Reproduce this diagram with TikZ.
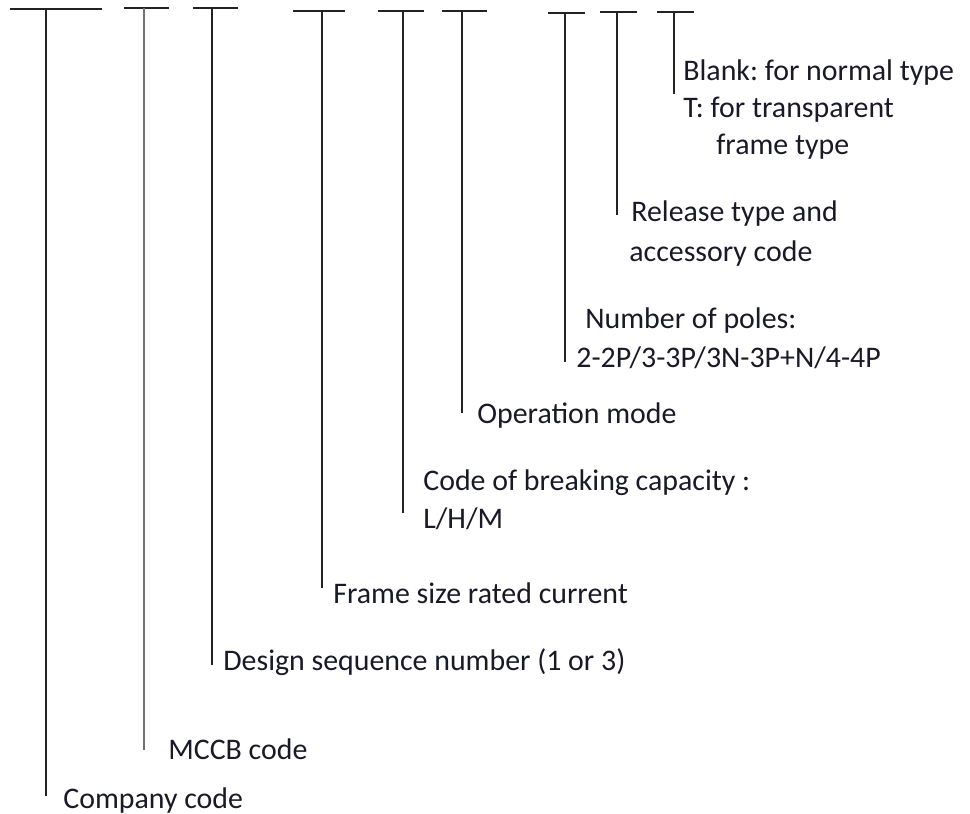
\documentclass[tikz,border=0pt]{standalone}
\usepackage{fontspec}
\setmainfont{Carlito}
\usepackage{tikz}
\frenchspacing

\definecolor{inkline}{RGB}{35,35,35}
\definecolor{inktext}{RGB}{25,25,40}
\tikzset{
  bar/.style={draw=inkline,line width=1.1pt},
  stem/.style={draw=inkline,line width=1.1pt},
  lbl/.style={anchor=base west,inner sep=0pt,text=inktext,
    font=\fontsize{17}{20}\selectfont}
}

\begin{document}
\begin{tikzpicture}[x=0.02cm,y=-0.02cm]
      \useasboundingbox (0,0) rectangle (970,814);

      % bars on top
      \coordinate (l1) at (10,9);  \coordinate (r1) at (102,9);  \coordinate (t1) at (46,9);
      \coordinate (l2) at (124,8); \coordinate (r2) at (169,8);  \coordinate (t2) at (144,8);
      \coordinate (l3) at (193,8); \coordinate (r3) at (238,8);  \coordinate (t3) at (212,8);
      \coordinate (l4) at (293,11); \coordinate (r4) at (345,11); \coordinate (t4) at (322,11);
      \coordinate (l5) at (378,11); \coordinate (r5) at (424,11); \coordinate (t5) at (403,11);
      \coordinate (l6) at (442,11); \coordinate (r6) at (487,11); \coordinate (t6) at (462,11);
      \coordinate (l7) at (548,13); \coordinate (r7) at (585,13); \coordinate (t7) at (565,13);
      \coordinate (l8) at (600,12); \coordinate (r8) at (637,12); \coordinate (t8) at (617,12);
      \coordinate (l9) at (657,12); \coordinate (r9) at (694,12); \coordinate (t9) at (674,12);

      % stem ends
      \coordinate (b1) at (46,796);
      \coordinate (b2) at (144,750);
      \coordinate (b3) at (212,665);
      \coordinate (b4) at (322,588);
      \coordinate (b5) at (403,513);
      \coordinate (b6) at (462,413);
      \coordinate (b7) at (565,362);
      \coordinate (b8) at (617,215);
      \coordinate (b9) at (674,94);

      % labels
      \node[lbl] (company) at (63,808) {Company code};
      \node[lbl] (mccb) at (168,759) {MCCB code};
      \node[lbl] (design) at (223,670) {Design sequence number (1 or 3)};
      \node[lbl] (frame) at (333,603) {Frame size rated current};
      \node[lbl] (breaka) at (423,490) {Code of breaking capacity :};
      \node[lbl] (breakb) at (423,528) {L/H/M};
      \node[lbl] (opmode) at (477,423) {Operation mode};
      \node[lbl] (polesa) at (585,328) {Number of poles:};
      \node[lbl] (polesb) at (576,367) {2-2P/3-3P/3N-3P+N/4-4P};
      \node[lbl] (relsa) at (631,222) {Release type and};
      \node[lbl] (relsb) at (629,261) {accessory code};
      \node[lbl] (typea) at (683,81) {Blank: for normal type};
      \node[lbl] (typeb) at (683,118) {T: for transparent};
      \node[lbl] (typec) at (716,155) {frame type};

      \draw[bar] (l1) -- (r1); \draw[stem] (t1) -- (b1);
      \draw[bar] (l2) -- (r2); \draw[stem,draw=gray!90!black] (t2) -- (b2);
      \draw[bar] (l3) -- (r3); \draw[stem] (t3) -- (b3);
      \draw[bar] (l4) -- (r4); \draw[stem] (t4) -- (b4);
      \draw[bar] (l5) -- (r5); \draw[stem] (t5) -- (b5);
      \draw[bar] (l6) -- (r6); \draw[stem] (t6) -- (b6);
      \draw[bar] (l7) -- (r7); \draw[stem] (t7) -- (b7);
      \draw[bar] (l8) -- (r8); \draw[stem] (t8) -- (b8);
      \draw[bar] (l9) -- (r9); \draw[stem] (t9) -- (b9);
  \end{tikzpicture}
\end{document}
